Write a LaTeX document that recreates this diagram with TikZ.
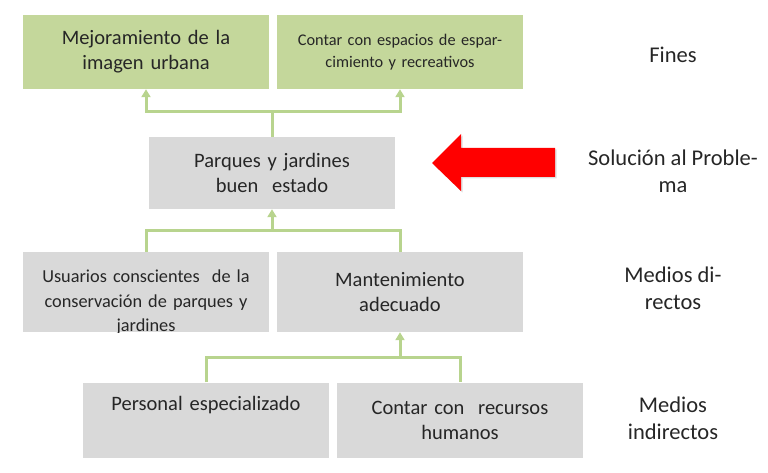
\documentclass[tikz,border=0pt]{standalone}
\usepackage{fontspec}
\setmainfont{Carlito}
\usepackage{xcolor}
\usetikzlibrary{positioning, arrows.meta, shadows}

\definecolor{finfill}{HTML}{C4D79B}
\definecolor{medfill}{HTML}{D9D9D9}
\definecolor{linkgreen}{HTML}{B8D48E}

\begin{document}
\begin{tikzpicture}[
  x=1pt, y=-1pt,
  font=\fontsize{20.5}{25}\selectfont,
  box/.style={align=center, inner sep=2pt, text=black!85,
              minimum width=246pt, text width=240pt},
  fin/.style={box, fill=finfill, minimum height=74pt},
  medio/.style={box, fill=medfill, minimum height=78pt},
  link/.style={draw=linkgreen, line width=3pt},
  tip/.style={link, -{Triangle[width=9pt, length=8pt]}},
  lev/.style={align=center, text=black!85, font=\fontsize{22.5}{27}\selectfont},
]
\useasboundingbox (0,0) rectangle (768,473);

\node[fin] (imagen) at (146,52) {Mejoramiento de la\\imagen urbana};
\node[fin, font=\fontsize{16.3}{22}\selectfont] (espacios) at (400,52)
  {Contar con espacios de espar-\\cimiento y recreativos};

\node[medio, minimum height=72pt] (parques) at (272,173)
  {Parques y jardines\\buen~ estado};

\node[medio, minimum height=80pt] (usuarios) at (146,292) {};
\begin{scope}
  \clip (usuarios.north west) rectangle (usuarios.south east);
  \node[box, font=\fontsize{18.3}{24.5}\selectfont, anchor=north] (usutext)
    at (146,268) {Usuarios conscientes~ de la\\conservación de parques y\\jardines};
\end{scope}
\node[medio, minimum height=80pt] (manten) at (400,292)
  {Mantenimiento\\adecuado};

\node[medio, minimum height=75pt] (personal) at (206,420)
  {Personal especializado\\\strut};
\node[medio, minimum height=75pt] (recursos) at (460,420)
  {Contar con~ recursos\\humanos};

\coordinate (finbar) at (272,112);
\draw[link] (parques.north) -- (finbar);
\draw[tip] (finbar) -| (imagen.south);
\draw[tip] (finbar) -| (espacios.south);

\coordinate (dirbar) at (272,230);
\draw[link] (usuarios.north) |- (dirbar) -| (manten.north);
\draw[tip] (dirbar) -- (parques.south);

\coordinate (indbar) at (400,357);
\draw[link] (personal.north) |- (indbar) -| (recursos.north);
\draw[tip] (indbar) -- (manten.south);

\fill[red, drop shadow={opacity=0.25, shadow xshift=1.5pt, shadow yshift=-1.5pt}]
  (432,163) -- (461,134) -- (461,148) -- (555,148) -- (555,177)
  -- (461,177) -- (461,191) -- cycle;

\node[lev] (fines) at (673,55) {Fines};
\node[lev] (solucion) at (673,171) {Solución al Proble-\\ma};
\node[lev] (directos) at (673,288) {Medios di-\\rectos};
\node[lev] (indirectos) at (673,418) {Medios\\indirectos};
\end{tikzpicture}
\end{document}
